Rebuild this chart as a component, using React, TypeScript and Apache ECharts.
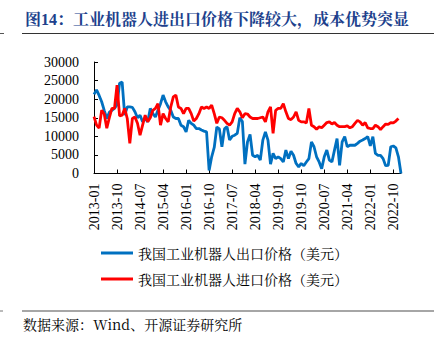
import React, { useEffect, useRef } from "react";
import * as echarts from "echarts";

const startYear = 2013;
const monthCount = 121;
const categories: string[] = Array.from({ length: monthCount }, (_, i) => {
  const y = startYear + Math.floor(i / 12);
  const m = (i % 12) + 1;
  return `${y}-${m < 10 ? "0" + m : m}`;
});

const exportPrice: number[] = [
  21300, 22500, 21000, 19300, 17000, 14800, 16500, 17000, 17500, 18500,
  24300, 24600, 15700, 17900, 17900, 17800, 16600, 15000, 15700, 13900,
  14800, 13900, 17500, 16100, 15200, 17000, 18800, 21100, 19300, 17900,
  17000, 15200, 14800, 14800, 13000, 12600, 11200, 14300, 13500, 13000,
  12100, 12100, 11700, 11400, 11200, 800, 4500, 7000, 12500, 12000,
  7200, 12000, 12600, 9000, 10000, 10300, 10800, 15000, 14000, 2500,
  8500, 10500, 4900, 4500, 4900, 3600, 9000, 11200, 9000, 2500,
  5400, 4000, 4500, 4000, 3100, 6300, 4000, 6000, 4900, 2700,
  1800, 2700, 2100, 3100, 4000, 8500, 7200, 4500, 3100, 1300,
  4500, 6300, 3600, 3100, 6300, 9400, 2200, 8500, 9900, 7200,
  7600, 7600, 7600, 8100, 8700, 9000, 9400, 9900, 7400, 9900,
  5400, 4900, 4900, 4000, 2100, 2200, 7200, 7400, 6900, 4500,
  0,
];

const importPrice: (number | null)[] = [
  15300, 13000, 12200, 17000, 16000, 12200, 15000, 17500, 17500, 23800,
  15500, 15700, 17500, 14800, 8100, 14800, 15200, 13500, 10300, 13000,
  15700, 13900, 15000, 17000, 17500, 18800, 13000, 16100, 14800, 13900,
  17900, 20600, 21100, 17900, 17500, 16100, 17500, 17500, 16100, 14100,
  14800, 16100, 17900, 17500, 17900, 17500, 18400, 16100, 13500, 15200,
  15000, 14300, 13500, 13000, 13900, 16100, 17500, 16600, 15000, 16100,
  16000, 15200, 14800, 14800, 14800, 15000, 15200, 13900, 16600, 17900,
  10800, 17000, 17500, 17500, 18800, 16600, 14800, 14500, 15200, 16600,
  14300, 13900, 13900, 13600, 17500, 13000, 12600, 11900, 12600, 12300,
  13000, 13700, 13900, 13300, 13700, 13000, 12600, 12600, 12600, 12800,
  12300, 12600, 13500, 14300, 13900, 13000, 13700, 12300, 12100, 12100,
  13000, 12600, 11800, 12600, 13300, 13200, 13700, 13600, 14100, 14800,
  null,
];

const yTicks = { min: 0, max: 30000, interval: 5000 };

const seriesNames = [
  "我国工业机器人出口价格（美元）",
  "我国工业机器人进口价格（美元）",
];

const titleText = "图14：工业机器人进出口价格下降较大，成本优势突显";
const sourceText = "数据来源：Wind、开源证券研究所";

const SERIF = "'Liberation Serif', 'Times New Roman', 'Noto Serif CJK SC', 'Noto Sans CJK SC', serif";
const CJK = "'Noto Serif CJK SC', 'Noto Sans CJK SC', 'Liberation Serif', serif";

export default function App() {
  const ref = useRef<HTMLDivElement>(null);
  useEffect(() => {
    if (!ref.current) return;
    const chart = echarts.init(ref.current, undefined, { renderer: "svg" });
    chart.setOption({
      animation: false,
      backgroundColor: "#ffffff",
      grid: { left: 94, right: 38, top: 62, bottom: 165.5, containLabel: false },
      xAxis: {
        type: "category",
        data: categories,
        boundaryGap: false,
        axisLine: { lineStyle: { color: "#000", width: 1 } },
        axisTick: { inside: true, length: 4, interval: 8, lineStyle: { color: "#000" } },
        axisLabel: {
          interval: 8,
          rotate: 90,
          margin: 10,
          fontSize: 14,
          fontFamily: SERIF,
          color: "#000",
        },
        splitLine: { show: false },
      },
      yAxis: {
        type: "value",
        min: yTicks.min,
        max: yTicks.max,
        interval: yTicks.interval,
        axisLine: { show: true, lineStyle: { color: "#000", width: 1 } },
        axisTick: { show: true, inside: true, length: 4, lineStyle: { color: "#000" } },
        axisLabel: {
          fontSize: 14,
          fontFamily: SERIF,
          color: "#000",
          margin: 15,
          formatter: (v: number) => String(v),
        },
        splitLine: { show: false },
      },
      legend: {
        orient: "vertical",
        left: 101,
        top: 246,
        padding: 0,
        itemWidth: 32,
        itemHeight: 3,
        itemGap: 12,
        icon: "rect",
        textStyle: { fontSize: 14, fontFamily: CJK, color: "#000" },
        data: seriesNames,
      },
      series: [
        {
          name: seriesNames[0],
          type: "line",
          data: exportPrice,
          showSymbol: false,
          symbol: "none",
          lineStyle: { color: "#0070C0", width: 2.8 },
          itemStyle: { color: "#0070C0" },
          z: 2,
        },
        {
          name: seriesNames[1],
          type: "line",
          data: importPrice,
          showSymbol: false,
          symbol: "none",
          lineStyle: { color: "#FF0000", width: 2.8 },
          itemStyle: { color: "#FF0000" },
          z: 3,
        },
      ],
      graphic: [
        {
          type: "text",
          left: 25,
          top: 11,
          style: {
            text: titleText,
            font: `bold 16px ${SERIF}`,
            fill: "#203F8C",
          },
        },
        {
          type: "line",
          shape: { x1: 22, y1: 33.5, x2: 434, y2: 33.5 },
          style: { stroke: "#333", lineWidth: 1 },
        },
        {
          type: "line",
          shape: { x1: 0, y1: 33.5, x2: 4, y2: 33.5 },
          style: { stroke: "#555", lineWidth: 1 },
        },
        {
          type: "line",
          shape: { x1: 22, y1: 311, x2: 434, y2: 311 },
          style: { stroke: "#888", lineWidth: 1.5 },
        },
        {
          type: "line",
          shape: { x1: 0, y1: 311, x2: 3, y2: 311 },
          style: { stroke: "#777", lineWidth: 1 },
        },
        {
          type: "text",
          left: 23,
          top: 317,
          style: {
            text: sourceText,
            font: `14px ${CJK}`,
            fill: "#000",
          },
        },
      ],
    });
    return () => chart.dispose();
  }, []);
  return (
    <div
      ref={ref}
      style={{ position: "fixed", left: 0, top: 0, width: 439, height: 339, background: "#fff" }}
    />
  );
}
